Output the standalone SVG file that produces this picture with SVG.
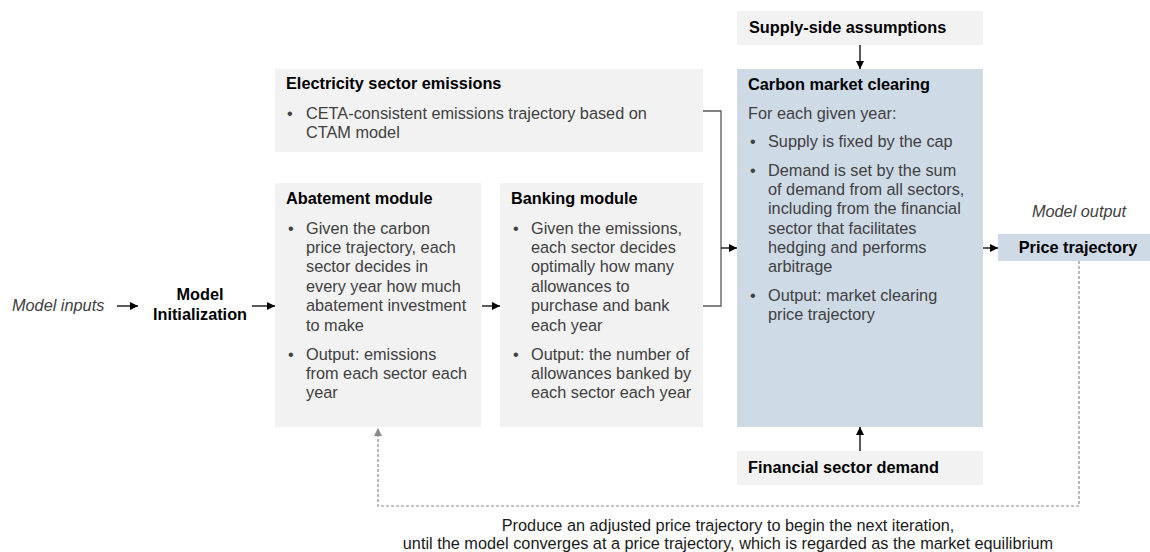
<svg xmlns="http://www.w3.org/2000/svg" width="1150" height="552" viewBox="0 0 1150 552">
<defs>
<marker id="ah" viewBox="0 0 10 10" refX="10" refY="5" markerWidth="8" markerHeight="8" markerUnits="userSpaceOnUse" orient="auto"><path d="M0,0 L10,5 L0,10 z" fill="#000"/></marker>
<marker id="ahg" viewBox="0 0 10 10" refX="10" refY="5" markerWidth="8" markerHeight="8" markerUnits="userSpaceOnUse" orient="auto"><path d="M0,0 L10,5 L0,10 z" fill="#8c8c8c"/></marker>
<style>
text{font-family:"Liberation Sans",Arial,sans-serif;font-size:16.3px;fill:#404040}
.h{font-weight:bold;fill:#000}
.i{font-style:italic}
.g{fill:#f2f2f2}
.b{fill:#cfdae7}
.c{stroke:#000;stroke-width:1.3;fill:none}
.k{stroke:#595959;stroke-width:1.3;fill:none}
.d{stroke:#8c8c8c;stroke-width:1.2;fill:none;stroke-dasharray:3 2}
.t{fill:#1a1a1a}
</style>
</defs>
<g id="model-inputs"><text class="i" x="12" y="311">Model inputs</text></g>
<g id="model-init"><text class="h" x="200" y="300" text-anchor="middle">Model</text><text class="h" x="200" y="320" text-anchor="middle">Initialization</text></g>
<g id="electricity">
<rect class="g" x="275" y="69" width="428" height="83"/>
<text class="h" x="286" y="89">Electricity sector emissions</text>
<text x="287" y="119">•</text>
<text x="306" y="119">CETA-consistent emissions trajectory based on</text>
<text x="306" y="138">CTAM model</text>
</g>
<g id="abatement">
<rect class="g" x="275" y="183" width="206" height="244"/>
<text class="h" x="286" y="204">Abatement module</text>
<text x="288" y="234">•</text>
<text x="306" y="234">Given the carbon</text>
<text x="306" y="253">price trajectory, each</text>
<text x="306" y="272">sector decides in</text>
<text x="306" y="291.5">every year how much</text>
<text x="306" y="311">abatement investment</text>
<text x="306" y="330.5">to make</text>
<text x="288" y="360">•</text>
<text x="306" y="360">Output: emissions</text>
<text x="306" y="379">from each sector each</text>
<text x="306" y="398">year</text>
</g>
<g id="banking">
<rect class="g" x="500" y="183" width="203" height="244"/>
<text class="h" x="511" y="204">Banking module</text>
<text x="513" y="234">•</text>
<text x="531" y="234">Given the emissions,</text>
<text x="531" y="253">each sector decides</text>
<text x="531" y="272">optimally how many</text>
<text x="531" y="291.5">allowances to</text>
<text x="531" y="311">purchase and bank</text>
<text x="531" y="330.5">each year</text>
<text x="513" y="360">•</text>
<text x="531" y="360">Output: the number of</text>
<text x="531" y="379">allowances banked by</text>
<text x="531" y="398">each sector each year</text>
</g>
<g id="supply">
<rect class="g" x="737" y="11" width="246" height="34"/>
<text class="h" x="749" y="33">Supply-side assumptions</text>
</g>
<g id="carbon-market">
<rect class="b" x="737" y="69" width="246" height="358"/>
<text class="h" x="748" y="90">Carbon market clearing</text>
<text x="748" y="119">For each given year:</text>
<text x="750" y="147">•</text>
<text x="768" y="147">Supply is fixed by the cap</text>
<text x="750" y="175.5">•</text>
<text x="768" y="175.5">Demand is set by the sum</text>
<text x="768" y="194.5">of demand from all sectors,</text>
<text x="768" y="214">including from the financial</text>
<text x="768" y="233.5">sector that facilitates</text>
<text x="768" y="253">hedging and performs</text>
<text x="768" y="272">arbitrage</text>
<text x="750" y="300.5">•</text>
<text x="768" y="300.5">Output: market clearing</text>
<text x="768" y="319.5">price trajectory</text>
</g>
<g id="financial">
<rect class="g" x="737" y="451" width="246" height="34"/>
<text class="h" x="748" y="473">Financial sector demand</text>
</g>
<g id="price">
<text class="i" x="1079" y="216.5" text-anchor="middle">Model output</text>
<rect class="b" x="998" y="234" width="152" height="27"/>
<text class="h" x="1078" y="253" text-anchor="middle">Price trajectory</text>
</g>
<g id="feedback-label">
<text class="t" x="728" y="531" text-anchor="middle">Produce an adjusted price trajectory to begin the next iteration,</text>
<text class="t" x="728" y="549" text-anchor="middle">until the model converges at a price trajectory, which is regarded as the market equilibrium</text>
</g>
<g id="connectors">
<line class="c" x1="117" y1="306" x2="138" y2="306" marker-end="url(#ah)"/>
<line class="c" x1="252" y1="306" x2="275" y2="306" marker-end="url(#ah)"/>
<line class="c" x1="482" y1="306" x2="500" y2="306" marker-end="url(#ah)"/>
<polyline class="k" points="703,111 721,111 721,306 703,306"/>
<line class="c" x1="721" y1="248" x2="737" y2="248" marker-end="url(#ah)"/>
<line class="c" x1="983" y1="248" x2="998" y2="248" marker-end="url(#ah)"/>
<line class="c" x1="860" y1="45" x2="860" y2="69" marker-end="url(#ah)"/>
<line class="c" x1="860" y1="451" x2="860" y2="427" marker-end="url(#ah)"/>
<polyline class="d" points="1079,261 1079,506 378,506 378,428" marker-end="url(#ahg)"/>
</g>
</svg>
